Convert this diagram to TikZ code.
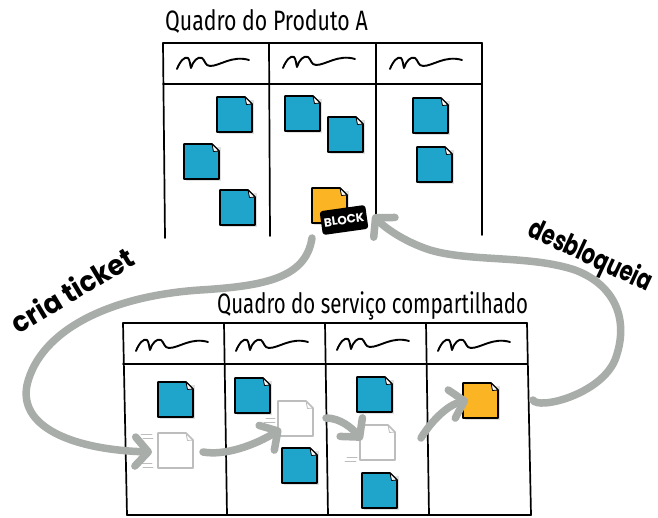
\documentclass[tikz,border=0pt]{standalone}
\usepackage{fontspec}
\newfontfamily\titlefont{Fira Sans}
\newfontfamily\labelfont{Poppins}
\usetikzlibrary{arrows.meta}
\definecolor{noteblue}{HTML}{1FA4CB}
\definecolor{noteorange}{HTML}{FBB423}
\definecolor{arrowgray}{HTML}{A9ADAA}
\definecolor{ghostgray}{HTML}{BDBDBD}

\tikzset{
  x=1pt, y=-1pt,
  board/.style={line width=1.7pt, line cap=round, line join=round},
  flow/.style={arrowgray, line width=7.5pt, line cap=round,
    -{Straight Barb[length=13pt,width=29pt,round]}},
  titletext/.style={anchor=base west, inner sep=0pt,
    font=\titlefont\fontsize{28}{28}\selectfont},
  labeltext/.style={inner sep=0pt, font=\labelfont\bfseries\fontsize{28}{28}\selectfont},
  pics/snote/.style={code={
    \fill[black!12] (2,3) -- (37,3) -- (37,37) -- (2,37) -- cycle;
    \draw[line width=1.6pt, line join=round, fill=#1]
      (0,0) -- (28,0) -- (35,7) -- (35,35) -- (0,35) -- cycle;
    \draw[line width=0.8pt, line join=round, fill=white]
      (28,0) -- (35,7) -- (29.5,7.5) -- cycle;
  }},
  pics/ghostnote/.style={code={
    \draw[ghostgray, line width=1.6pt, line join=round, fill=white]
      (0,0) -- (28,0) -- (35,7) -- (35,35) -- (0,35) -- cycle;
    \draw[ghostgray, line width=0.8pt, line join=round] (28,0) -- (29.5,7.5) -- (35,7);
  }},
  pics/squiggle/.style={code={
    \draw[line width=1.9pt, line cap=round, line join=round]
      (0,12) .. controls (3,4) and (8,-1) .. (11,1)
             .. controls (13,3) and (13,8) .. (14,11)
             .. controls (16,4) and (21,-1) .. (25,1)
             .. controls (28,3) and (28,9) .. (33,9)
             .. controls (43,9) and (55,-2) .. (72,3);
  }},
  speed/.style={ghostgray, line width=0.7pt, line cap=round}
}

\begin{document}
\begin{tikzpicture}
\useasboundingbox (0,0) rectangle (658,518);
\fill[white] (0,0) rectangle (658,518);

% ---------- board of product A ----------
\node[titletext] (titleA) at (165,31) {\scalebox{0.76}[1]{Quadro do Produto A}};
\draw[board] (163,43) -- (482,43);
\draw[board] (163,84) -- (482,84);
\draw[board] (163,43) -- (165,238);
\draw[board] (269,43) -- (270,236);
\draw[board] (376,43) -- (376,235);
\draw[board] (482,43) -- (482,235);
\pic at (177,57) {squiggle};
\pic at (283,56) {squiggle};
\pic at (390,57) {squiggle};

\pic at (217,97)  {snote=noteblue};
\pic at (184,144) {snote=noteblue};
\pic at (220,190) {snote=noteblue};
\pic at (285,96)  {snote=noteblue};
\pic at (328,117) {snote=noteblue};
\pic at (312,188) {snote=noteorange};
\pic at (413,98)  {snote=noteblue};
\pic at (417,147) {snote=noteblue};
\node[fill=black, text=white, rounded corners=3pt, rotate=8, inner sep=2pt,
      minimum width=46pt, minimum height=24pt,
      font=\labelfont\bfseries\fontsize{12}{12}\selectfont] (block) at (344,220) {BLOCK};

% ---------- shared service board ----------
\node[titletext] (titleS) at (217,313) {\scalebox{0.73}[1]{Quadro do serviço compartilhado}};
\draw[board] (123,323) -- (527,323);
\draw[board] (123,364) -- (527,364);
\draw[board] (123,323) -- (127,515);
\draw[board] (224,323) -- (227,515);
\draw[board] (325,323) -- (328,515);
\draw[board] (426,323) -- (429,515);
\draw[board] (527,323) -- (531,515);
\draw[board] (127,515) -- (531,515);
\pic at (136,339) {squiggle};
\pic at (236,339) {squiggle};
\pic at (337,338) {squiggle};
\pic at (438,339) {squiggle};

\pic at (158,382) {snote=noteblue};
\pic at (158,433) {ghostnote};
\draw[speed] (141,434) -- (152,434) (143,438) -- (153,438) (141,463) -- (152,463) (143,467) -- (153,467);
\pic at (235,378) {snote=noteblue};
\pic at (278,401) {ghostnote};
\draw[speed] (266,418) -- (275,418) (264,422) -- (275,422);
\pic at (282,448) {snote=noteblue};
\pic at (357,377) {snote=noteblue};
\pic at (360,425) {ghostnote};
\draw[speed] (347,457) -- (357,457) (345,461) -- (356,461);
\pic at (362,473) {snote=noteblue};
\pic at (463,383) {snote=noteorange};

% ---------- flow arrows ----------
\coordinate (ticketStart) at (312,238);
\coordinate (ticketEnd) at (152,452);
\draw[flow] (ticketStart) .. controls (306,278) and (265,286) .. (200,290)
  .. controls (110,296) and (40,330) .. (27,385)
  .. controls (18,430) and (80,450) .. (ticketEnd);

\coordinate (m1a) at (203,452);
\coordinate (m1b) at (281,429);
\draw[flow] (m1a) .. controls (225,456) and (255,445) .. (m1b);
\coordinate (m2a) at (326,418);
\coordinate (m2b) at (362,440);
\draw[flow] (m2a) .. controls (340,418) and (352,428) .. (m2b);
\coordinate (m3a) at (421,438);
\coordinate (m3b) at (468,400);
\draw[flow] (m3a) .. controls (432,420) and (448,405) .. (m3b);

\coordinate (unblockStart) at (533,400);
\coordinate (unblockEnd) at (373,215);
\draw[flow] (unblockStart) .. controls (538,410) and (600,395) .. (615,360)
  .. controls (630,320) and (615,285) .. (575,270)
  .. controls (530,255) and (470,262) .. (430,250)
  .. controls (405,242) and (385,228) .. (unblockEnd);

% ---------- labels ----------
\node[labeltext, rotate=31] (cria) at (72,290) {\scalebox{0.95}[1]{cria ticket}};
\node[labeltext, rotate=-25] (desb) at (590,257) {\scalebox{0.74}[1]{desbloqueia}};
\end{tikzpicture}
\end{document}
